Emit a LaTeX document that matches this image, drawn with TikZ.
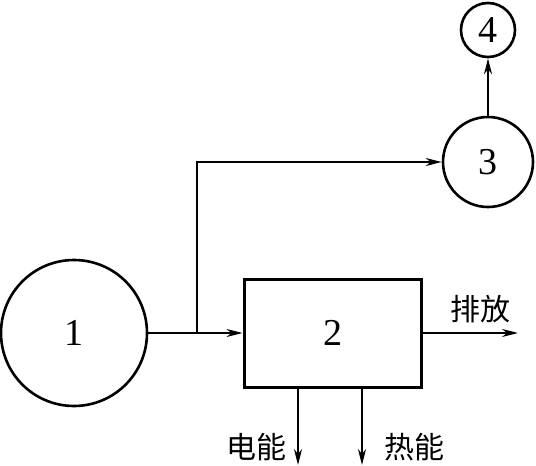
\documentclass[tikz,border=0pt]{standalone}
\usepackage{fontspec}
\setmainfont{Liberation Serif}
\newfontfamily\cjk{Noto Sans CJK SC}
\usetikzlibrary{arrows.meta}
\begin{document}
\begin{tikzpicture}[x=0.5pt,y=-0.5pt,
  circ/.style={circle,draw,line width=1.3pt,inner sep=0pt,font=\fontsize{19}{21}\selectfont},
  blk/.style={rectangle,draw,line width=1.5pt,inner sep=0pt,font=\fontsize{19}{21}\selectfont},
  conn/.style={line width=0.8pt,-{Stealth[length=8pt,width=4pt,inset=2.5pt]}},
  lbl/.style={font=\cjk\fontsize{15}{17}\selectfont,inner sep=0pt}]
\useasboundingbox (0,0) rectangle (536,466);
\node[circ,minimum size=73pt] (c1) at (74,333) {1};
\node[blk,minimum width=88.5pt,minimum height=54pt] (b2) at (332.5,333) {2};
\node[circ,minimum size=45pt] (c3) at (488,162) {3};
\node[circ,minimum size=27pt] (c4) at (488,30) {4};
\coordinate (br) at (197,333);
\coordinate (out) at (518,333);
\coordinate (d1) at (298,465);
\coordinate (d2) at (362,465);
\draw[conn] (c1.east) -- (b2.west);
\draw[conn] (br) |- (c3.west);
\draw[conn] (c3.north) -- (c4.south);
\draw[conn] (b2.east) -- (out);
\draw[conn] (d1 |- b2.south) -- (d1);
\draw[conn] (d2 |- b2.south) -- (d2);
\node[lbl] (t1) at (480,309) {排放};
\node[lbl] (t2) at (256,447) {电能};
\node[lbl] (t3) at (414,447) {热能};
\end{tikzpicture}
\end{document}
